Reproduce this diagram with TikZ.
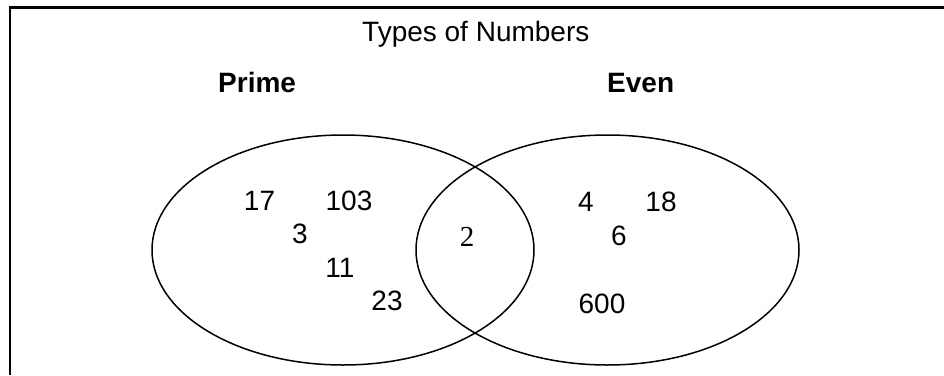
\documentclass[tikz,border=0pt]{standalone}
\usepackage{fontspec}
\setmainfont{Liberation Sans}
\newfontfamily\serifnum{Liberation Serif}
\begin{document}
\begin{tikzpicture}[x=1pt,y=-1pt,
  lbl/.style={anchor=base west,inner sep=0pt,font=\fontsize{28}{33}\selectfont},
  num/.style={anchor=base,inner sep=0pt,font=\fontsize{28}{33}\selectfont},
  setname/.style={anchor=base west,inner sep=0pt,font=\fontsize{28}{33}\selectfont\bfseries},
  setline/.style={line width=1.5pt}]
\useasboundingbox (0,0) rectangle (944,375);
\draw[line width=2.2pt] (10,375) -- (10,7.5) -- (944,7.5);
\draw[setline] (343,250) ellipse [x radius=191, y radius=115];
\draw[setline] (607.5,250) ellipse [x radius=191.5, y radius=115];
\node[lbl] (title) at (362,41.7) {Types of Numbers};
\node[setname] (prime) at (218,92) {Prime};
\node[setname] (even) at (607,92) {Even};
\node[num] (n17) at (259.5,210) {17};
\node[num] (n103) at (349,210) {103};
\node[num] (n3) at (300,243) {3};
\node[num] (n11) at (340,277) {11};
\node[num] (n23) at (387,310) {23};
\node[num,font=\fontsize{29}{34}\selectfont\serifnum] (n2) at (467,246.7) {2};
\node[num] (n4) at (586,211.5) {4};
\node[num] (n18) at (661,211.5) {18};
\node[num] (n6) at (619,245) {6};
\node[num] (n600) at (602,313) {600};
\end{tikzpicture}
\end{document}
